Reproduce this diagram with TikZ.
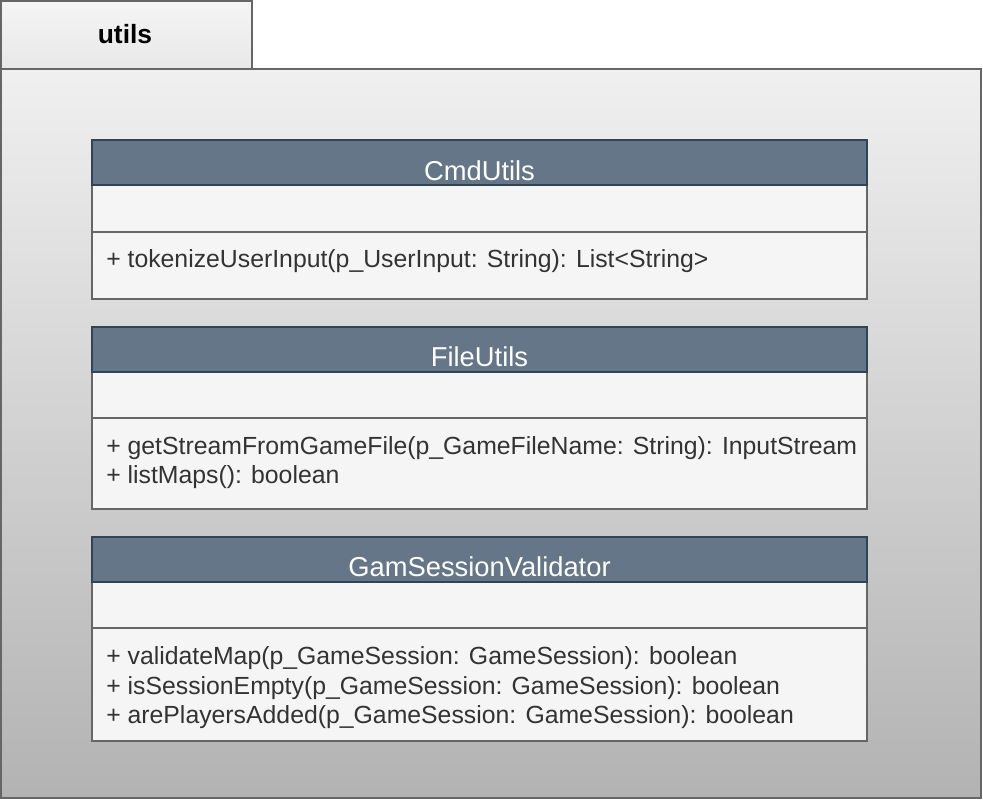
\documentclass[tikz,border=0pt]{standalone}
\usepackage{fontspec}
\setmainfont{Liberation Sans}
\definecolor{hdr}{HTML}{647687}
\definecolor{hdrline}{HTML}{314354}
\definecolor{body}{HTML}{F5F5F5}
\definecolor{edge}{HTML}{666666}
\definecolor{txt}{HTML}{333333}
\tikzset{
  hdrbox/.style={fill=hdr, draw=hdrline, line width=1.4pt},
  secbox/.style={fill=body, draw=edge, line width=1.4pt},
  hdrtext/.style={text=white, font=\fontsize{20.5}{24}\selectfont, inner sep=0pt},
  memtext/.style={text=txt, font=\fontsize{18.6}{22}\selectfont, inner sep=0pt, anchor=west},
}
\begin{document}
\begin{tikzpicture}[x=0.75pt,y=-0.75pt]
\useasboundingbox (0,0) rectangle (983,800);
% package
\path[top color=white!96!black, bottom color=white!91!black, draw=edge, line width=1.5pt] (1,1) rectangle (252,69);
\node[font=\fontsize{19.8}{23}\selectfont\bfseries, inner sep=0pt] (pkgname) at (125,34) {utils};
\path[top color=white!94!black, bottom color=white!70!black, draw=edge, line width=1.5pt] (1,69) rectangle (981,798);
% class 1
\path[secbox] (92,185) rectangle (867,299);
\draw[edge, line width=1.4pt] (92,232) -- (867,232);
\path[hdrbox] (92,140) rectangle (867,185);
\node[hdrtext] (c1) at (479.5,171) {CmdUtils};
\node[memtext] (c1m1) at (106,261) {+ tokenizeUserInput(p\_UserInput: String): List<String>};
% class 2
\path[secbox] (92,372) rectangle (867,509);
\draw[edge, line width=1.4pt] (92,418) -- (867,418);
\path[hdrbox] (92,327) rectangle (867,372);
\node[hdrtext] (c2) at (479.5,357) {FileUtils};
\node[memtext] (c2m1) at (106,448) {+ getStreamFromGameFile(p\_GameFileName: String): InputStream};
\node[memtext] (c2m2) at (106,477) {+ listMaps(): boolean};
% class 3
\path[secbox] (92,582) rectangle (867,741);
\draw[edge, line width=1.4pt] (92,628) -- (867,628);
\path[hdrbox] (92,537) rectangle (867,582);
\node[hdrtext] (c3) at (479.5,567) {GamSessionValidator};
\node[memtext] (c3m1) at (106,658) {+ validateMap(p\_GameSession: GameSession): boolean};
\node[memtext] (c3m2) at (106,688) {+ isSessionEmpty(p\_GameSession: GameSession): boolean};
\node[memtext] (c3m3) at (106,717) {+ arePlayersAdded(p\_GameSession: GameSession): boolean};
\end{tikzpicture}
\end{document}
